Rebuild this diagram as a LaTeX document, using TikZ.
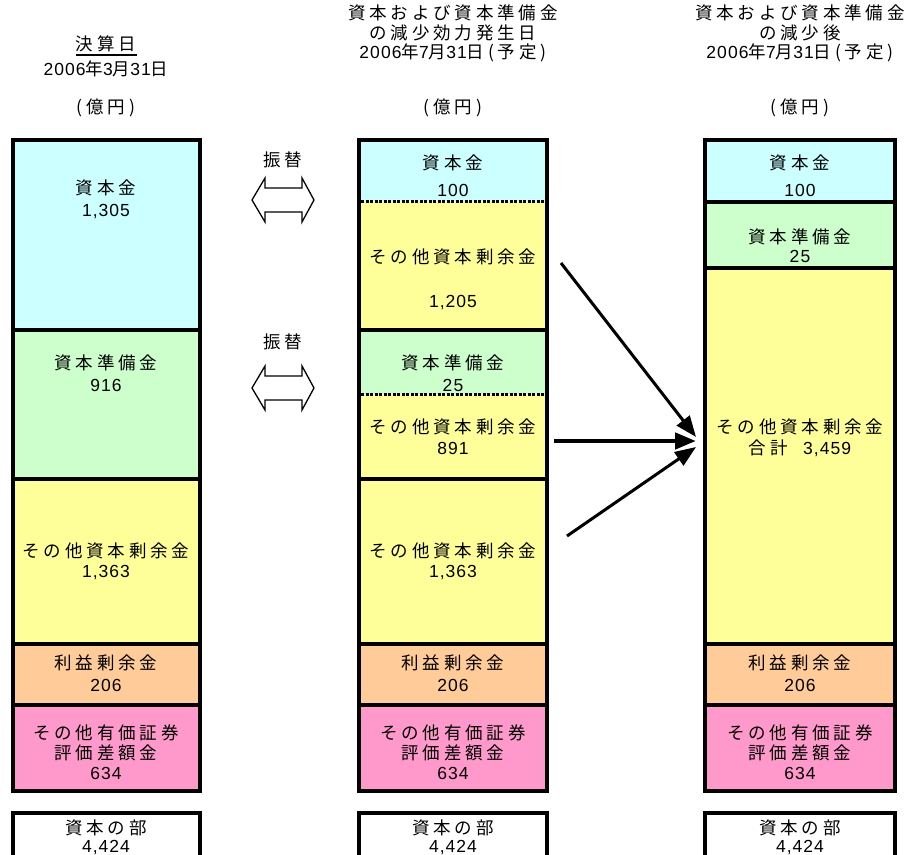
\documentclass[tikz,border=0pt]{standalone}
\usepackage{fontspec}
\setmainfont{Noto Sans CJK JP}[LetterSpace=22]
\newfontfamily\nmfont{Liberation Sans}[LetterSpace=6]
\newcommand\nm[1]{{\nmfont #1}}
\usetikzlibrary{arrows.meta}
\definecolor{cyanC}{HTML}{CCFFFF}
\definecolor{greenC}{HTML}{CCFFCC}
\definecolor{yellowC}{HTML}{FFFF99}
\definecolor{orangeC}{HTML}{FFCC99}
\definecolor{pinkC}{HTML}{FF99CC}
\begin{document}
\begin{tikzpicture}[x=1pt,y=-1pt,
  cellborder/.style={line width=4pt, line join=miter},
  txt/.style={font=\fontsize{17.5}{19}\selectfont, inner sep=0pt, anchor=center},
  dotline/.style={line width=3pt, dash pattern=on 3pt off 1.5pt},
  bigarrow/.style={-{Triangle[length=21pt,width=16pt]}, line width=3pt},
  swaparrow/.style={draw, line width=1.3pt, fill=white, line join=miter}
]
\clip (0,0) rectangle (906,855);
\fill[white] (0,0) rectangle (906,855);

% ---------- column 1 ----------
\fill[cyanC]   (13,140) rectangle (200,330);
\fill[greenC]  (13,330) rectangle (200,479);
\fill[yellowC] (13,479) rectangle (200,644);
\fill[orangeC] (13,644) rectangle (200,705);
\fill[pinkC]   (13,705) rectangle (200,791);
\foreach \yy in {330,479,644,705} \draw[cellborder] (13,\yy) -- (200,\yy);
\draw[cellborder] (13,140) rectangle (200,791);
\draw[cellborder] (13,880) -- (13,813) -- (200,813) -- (200,880);

% ---------- column 2 ----------
\fill[cyanC]   (359,140) rectangle (547,201);
\fill[yellowC] (359,201) rectangle (547,330);
\fill[greenC]  (359,330) rectangle (547,394);
\fill[yellowC] (359,394) rectangle (547,644);
\fill[orangeC] (359,644) rectangle (547,705);
\fill[pinkC]   (359,705) rectangle (547,791);
\foreach \yy in {201,394} \draw[dotline] (361,\yy) -- (545,\yy);
\foreach \yy in {330,479,644,705} \draw[cellborder] (359,\yy) -- (547,\yy);
\draw[cellborder] (359,140) rectangle (547,791);
\draw[cellborder] (359,880) -- (359,813) -- (547,813) -- (547,880);

% ---------- column 3 ----------
\fill[cyanC]   (705,140) rectangle (895,202);
\fill[greenC]  (705,202) rectangle (895,268);
\fill[yellowC] (705,268) rectangle (895,644);
\fill[orangeC] (705,644) rectangle (895,705);
\fill[pinkC]   (705,705) rectangle (895,791);
\foreach \yy in {202,268,644,705} \draw[cellborder] (705,\yy) -- (895,\yy);
\draw[cellborder] (705,140) rectangle (895,791);
\draw[cellborder] (705,880) -- (705,813) -- (895,813) -- (895,880);

% ---------- headers ----------
\node[txt] (h1a) at (106,44) {決算日};
\coordinate (ulA) at (76,55);
\coordinate (ulB) at (137,55);
\draw[line width=1.5pt] (ulA) -- (ulB);
\node[txt] (h1b) at (106,69) {\nm{2006}年\nm{3}月\nm{31}日};
\node[txt] (h1c) at (106,108) {(億円)};
\node[txt] (h2a) at (453,13) {資本および資本準備金};
\node[txt] (h2b) at (453,33) {の減少効力発生日};
\node[txt] (h2c) at (453,53) {\nm{2006}年\nm{7}月\nm{31}日(予定)};
\node[txt] (h2d) at (453,108) {(億円)};
\node[txt] (h3a) at (800,13) {資本および資本準備金};
\node[txt] (h3b) at (800,33) {の減少後};
\node[txt] (h3c) at (800,53) {\nm{2006}年\nm{7}月\nm{31}日(予定)};
\node[txt] (h3d) at (800,108) {(億円)};

% ---------- column 1 texts ----------
\node[txt] (c1a) at (106,188) {資本金};
\node[txt] (c1b) at (106,212) {\nm{1,305}};
\node[txt] (c1c) at (106,363) {資本準備金};
\node[txt] (c1d) at (106,385) {\nm{916}};
\node[txt] (c1e) at (106,551) {その他資本剰余金};
\node[txt] (c1f) at (106,573) {\nm{1,363}};
\node[txt] (c1g) at (106,663) {利益剰余金};
\node[txt] (c1h) at (106,685) {\nm{206}};
\node[txt] (c1i) at (106,733) {その他有価証券};
\node[txt] (c1j) at (106,753) {評価差額金};
\node[txt] (c1k) at (106,773) {\nm{634}};
\node[txt] (c1l) at (106,828) {資本の部};
\node[txt] (c1m) at (106,847) {\nm{4,424}};

% ---------- column 2 texts ----------
\node[txt] (c2a) at (453,163) {資本金};
\node[txt] (c2b) at (453,190) {\nm{100}};
\node[txt] (c2c) at (453,257) {その他資本剰余金};
\node[txt] (c2d) at (453,303) {\nm{1,205}};
\node[txt] (c2e) at (453,363) {資本準備金};
\node[txt] (c2f) at (453,385) {\nm{25}};
\node[txt] (c2g) at (453,427) {その他資本剰余金};
\node[txt] (c2h) at (453,448) {\nm{891}};
\node[txt] (c2i) at (453,551) {その他資本剰余金};
\node[txt] (c2j) at (453,573) {\nm{1,363}};
\node[txt] (c2k) at (453,663) {利益剰余金};
\node[txt] (c2l) at (453,685) {\nm{206}};
\node[txt] (c2m) at (453,733) {その他有価証券};
\node[txt] (c2n) at (453,753) {評価差額金};
\node[txt] (c2o) at (453,773) {\nm{634}};
\node[txt] (c2p) at (453,828) {資本の部};
\node[txt] (c2q) at (453,847) {\nm{4,424}};

% ---------- column 3 texts ----------
\node[txt] (c3a) at (800,163) {資本金};
\node[txt] (c3b) at (800,190) {\nm{100}};
\node[txt] (c3c) at (800,237) {資本準備金};
\node[txt] (c3d) at (800,256) {\nm{25}};
\node[txt] (c3e) at (800,427) {その他資本剰余金};
\node[txt] (c3f) at (800,448) {合計\ \ \nm{3,459}};
\node[txt] (c3g) at (800,663) {利益剰余金};
\node[txt] (c3h) at (800,685) {\nm{206}};
\node[txt] (c3i) at (800,733) {その他有価証券};
\node[txt] (c3j) at (800,753) {評価差額金};
\node[txt] (c3k) at (800,773) {\nm{634}};
\node[txt] (c3l) at (800,828) {資本の部};
\node[txt] (c3m) at (800,847) {\nm{4,424}};

% ---------- transfer labels and double arrows ----------
\node[txt] (f1) at (283,160) {振替};
\node[txt] (f2) at (283,342) {振替};
\foreach \cy in {200,388} {
  \draw[swaparrow] (252,\cy) -- (265,\cy-22) -- (265,\cy-12) -- (302,\cy-12)
    -- (302,\cy-22) -- (314,\cy) -- (302,\cy+22) -- (302,\cy+12)
    -- (265,\cy+12) -- (265,\cy+22) -- cycle;
}

% ---------- merging arrows ----------
\coordinate (s1) at (561,263);
\coordinate (t1) at (696,437);
\coordinate (s2) at (554,441);
\coordinate (t2) at (696,441);
\coordinate (s3) at (567,536);
\coordinate (t3) at (696,447);
\draw[bigarrow] (s1) -- (t1);
\draw[bigarrow, line width=4.5pt] (s2) -- (t2);
\draw[bigarrow] (s3) -- (t3);
\end{tikzpicture}
\end{document}
